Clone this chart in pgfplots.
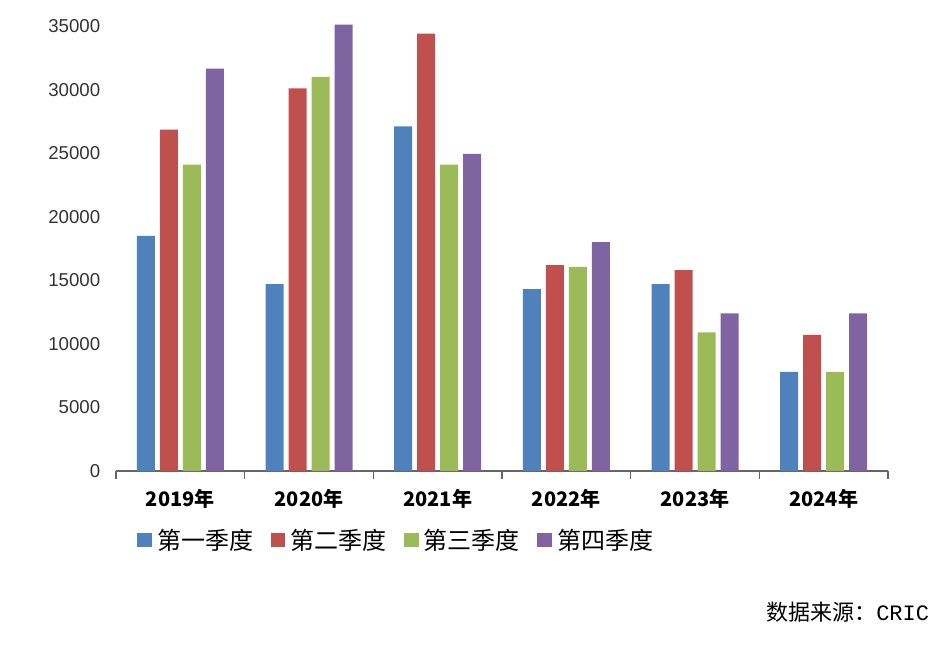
\documentclass[border=0pt]{standalone}
\usepackage{pgfplots}
\pgfplotsset{compat=1.18}
\usepackage{fontspec}
\setmainfont{Liberation Sans}
\newfontfamily\cjk{Noto Sans CJK SC}
\newfontfamily\mono{Liberation Mono}
\definecolor{q1}{HTML}{4F81BD}
\definecolor{q2}{HTML}{C0504D}
\definecolor{q3}{HTML}{9BBB59}
\definecolor{q4}{HTML}{8064A2}
\begin{document}
\begin{tikzpicture}
\path[use as bounding box] (0,0) rectangle (709.5pt,-488.25pt);
\begin{axis}[
  at={(87pt,-353.25pt)}, anchor=south west,
  scale only axis, width=579pt, height=333.75pt,
  xmin=-0.5, xmax=5.5, ymin=0, ymax=35000,
  ybar=3.75pt, bar width=13.5pt,
  axis x line*=bottom, axis y line*=left,
  x axis line style={draw=gray!80!black, line width=0.8pt},
  y axis line style={draw=none},
  xtick={0,...,5},
  xticklabels={2019年,2020年,2021年,2022年,2023年,2024年},
  xticklabel style={font=\cjk\bfseries\fontsize{15}{18}\selectfont, yshift=-6pt},
  major x tick style={draw=none},
  minor xtick={-0.5,0.5,...,5.5},
  minor x tick style={draw=gray!80!black, line width=0.8pt},
  minor tick length=6pt,
  tick align=outside,
  scaled y ticks=false,
  ytick={0,5000,...,35000},
  yticklabels={0,5000,10000,15000,20000,25000,30000,35000},
  yticklabel style={font=\fontsize{14}{17}\selectfont, text=black!80},
  y tick label style={xshift=-4pt},
  major y tick style={draw=none},
  clip=false,
  legend columns=4,
  legend style={at={(0.022,-0.155)}, anchor=west, draw=none, fill=none,
    font=\cjk\fontsize{18}{21}\selectfont, column sep=2pt,
    /tikz/every even column/.append style={column sep=11pt}},
  legend image code/.code={\fill[#1] (0pt,-5.5pt) rectangle (11pt,5.5pt);},
]
\addplot[fill=q1, draw=none] coordinates {(0,18500) (1,14700) (2,27100) (3,14300) (4,14700) (5,7800)};
\addplot[fill=q2, draw=none] coordinates {(0,26850) (1,30100) (2,34400) (3,16200) (4,15800) (5,10700)};
\addplot[fill=q3, draw=none] coordinates {(0,24100) (1,31000) (2,24100) (3,16050) (4,10900) (5,7800)};
\addplot[fill=q4, draw=none] coordinates {(0,31650) (1,35100) (2,24950) (3,18000) (4,12400) (5,12400)};
\legend{第一季度,第二季度,第三季度,第四季度}
\end{axis}
\node[anchor=east, inner sep=0pt] at (697pt,-459pt) {\cjk\fontsize{16.5}{19}\selectfont 数据来源：\mono CRIC};
\end{tikzpicture}
\end{document}
